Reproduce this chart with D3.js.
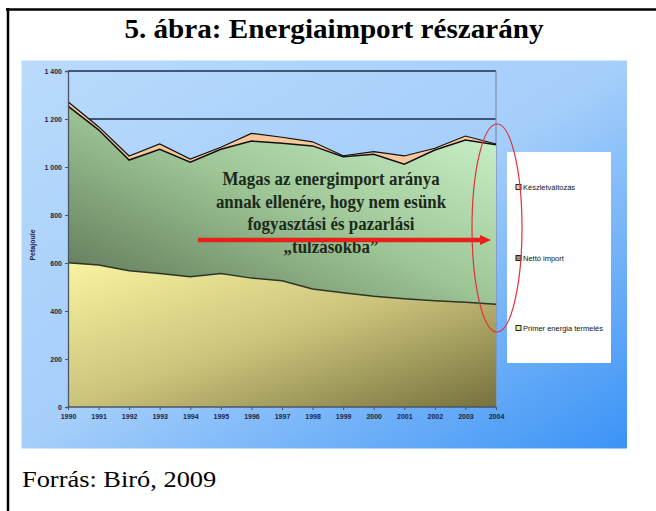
<!DOCTYPE html>
<html>
<head>
<meta charset="UTF-8">
<title>Energiaimport részarány</title>
<script src="https://d3js.org/d3.v7.min.js"></script>
<style>
    body, html { margin: 0; background: #fff; }
    svg { display: block; }
    .tick text { font-family: "Liberation Sans", Arial, sans-serif; font-size: 7px; font-weight: bold; fill: #1b2546; }
</style>
</head>
<body>
<div id="chart"></div>
<script>
// data (petajoule)
const years = [1990, 1991, 1992, 1993, 1994, 1995, 1996, 1997, 1998, 1999, 2000, 2001, 2002, 2003, 2004];
const primer = [601, 592, 568, 556, 543, 556, 537, 526, 492, 476, 461, 451, 443, 436, 428];
const nettoImport = [653, 563, 461, 518, 477, 518, 571, 573, 596, 567, 592, 561, 628, 676, 665];
const keszlet = [18, 13, 17, 22, 13, 8, 32, 25, 17, 4, 11, 34, 7, 17, 3];
const yTicks = [0, 200, 400, 600, 800, 1000, 1200, 1400];
const seriesNames = ["Primer energia termelés", "Nettó import", "Készletváltozás"];
const noteLines = ["Magas az energimport aránya", "annak ellenére, hogy nem esünk", "fogyasztási és pazarlási", "„túlzásokba”"];

const width = 656, height = 511;
const svg = d3.select("#chart").append("svg")
    .attr("width", width)
    .attr("height", height);

const defs = svg.append("defs");
function grad(id, x1, y1, x2, y2, stops, units) {
    const g = defs.append("linearGradient").attr("id", id)
        .attr("x1", x1).attr("y1", y1).attr("x2", x2).attr("y2", y2);
    if (units) g.attr("gradientUnits", units);
    stops.forEach(s => g.append("stop").attr("offset", s[0]).attr("stop-color", s[1]));
}
grad("bg", 0, 0, 1, 1, [[0, "#b9dafc"], [0.5, "#a5cefa"], [1, "#3b93f6"]]);
grad("gPrimer", 0, 0, 1, 1, [[0, "#f8f3a0"], [0.5, "#cbc37b"], [1, "#76713e"]]);
grad("gImport", 0, 1, 1, 0, [[0, "#5a7052"], [0.5, "#9cc494"], [1, "#cff7cf"]]);

// page frame and title
svg.append("line").attr("x1", 6).attr("x2", width).attr("y1", 9.5).attr("y2", 9.5)
    .attr("stroke", "#000").attr("stroke-width", 2.5);
svg.append("line").attr("x1", 8).attr("x2", 8).attr("y1", 8).attr("y2", height)
    .attr("stroke", "#000").attr("stroke-width", 2.5);
svg.append("text").attr("transform", "translate(334,38) scale(1.1,1)")
    .attr("text-anchor", "middle")
    .style("font-family", "'Liberation Serif', 'Times New Roman', serif")
    .style("font-weight", "bold").style("font-size", "26.5px")
    .text("5. ábra: Energiaimport részarány");
svg.append("text").attr("transform", "translate(22,487) scale(1.1,1)")
    .style("font-family", "'Liberation Serif', 'Times New Roman', serif")
    .style("font-size", "24px")
    .text("Forrás: Biró, 2009");

// blue slide background
svg.append("rect").attr("x", 21.5).attr("y", 60.5).attr("width", 605.5).attr("height", 388)
    .attr("fill", "url(#bg)");

const x = d3.scaleLinear().domain([1990, 2004]).range([68, 496]);
const y = d3.scaleLinear().domain([0, 1400]).range([407, 71]);

// gridlines (only the top ones stay visible above the areas)
svg.append("g").selectAll("line").data(yTicks.slice(1)).join("line")
    .attr("x1", x(1990)).attr("x2", x(2004))
    .attr("y1", d => y(d)).attr("y2", d => y(d))
    .attr("stroke", "#1d2b4e").attr("stroke-width", 1.3);
svg.append("line").attr("x1", x(2004)).attr("x2", x(2004)).attr("y1", y(1400)).attr("y2", y(0))
    .attr("stroke", "#7d8ea6").attr("stroke-width", 1.2);

const rows = years.map((yr, i) => ({ year: yr, primer: primer[i], imp: nettoImport[i], keszlet: keszlet[i] }));
const stack = d3.stack().keys(["primer", "imp", "keszlet"]);
const layers = stack(rows);
const fills = ["url(#gPrimer)", "url(#gImport)", "#f8c89c"];

const area = d3.area()
    .x(d => x(d.data.year))
    .y0(d => y(d[0]))
    .y1(d => y(d[1]));
const topLine = d3.line()
    .x(d => x(d.data.year))
    .y(d => y(d[1]));

svg.append("g").selectAll("path").data(layers).join("path")
    .attr("d", area)
    .attr("fill", (d, i) => fills[i]);
svg.append("g").selectAll("path").data(layers).join("path")
    .attr("d", topLine)
    .attr("fill", "none")
    .attr("stroke", (d, i) => i == 0 ? "#2e3526" : "#111")
    .attr("stroke-width", (d, i) => i == 2 ? 1.2 : 1.5);

// axes
const yAxis = svg.append("g").attr("transform", "translate(68,0)")
    .call(d3.axisLeft(y).tickValues(yTicks).tickSize(3).tickPadding(3)
        .tickFormat(d => d >= 1000 ? Math.floor(d / 1000) + " " + String(d % 1000).padStart(3, "0") : d));
const xAxis = svg.append("g").attr("transform", "translate(0,407)")
    .call(d3.axisBottom(x).tickValues(years).tickSize(3).tickPadding(4).tickFormat(d3.format("d")));
[yAxis, xAxis].forEach(a => {
    a.select(".domain").attr("stroke", "#4a5568").attr("stroke-width", 1.3);
    a.selectAll(".tick line").attr("stroke", "#4a5568");
});
xAxis.select(".domain").attr("d", "M68,0H496");

svg.append("text")
    .attr("transform", "translate(35,245) rotate(-90)")
    .attr("text-anchor", "middle")
    .style("font-family", "'Liberation Sans', Arial, sans-serif")
    .style("font-size", "7px").style("font-weight", "bold").style("fill", "#1b2546")
    .text("Petajoule");

// legend
svg.append("rect").attr("x", 507).attr("y", 152).attr("width", 104).attr("height", 211).attr("fill", "#fff");
const legendY = [328, 258, 187];
const legendFill = ["#f2ec98", "#7e9a74", "#f8c89c"];
const leg = svg.append("g").selectAll("g").data(seriesNames).join("g")
    .attr("transform", (d, i) => "translate(516," + legendY[i] + ")");
leg.append("rect").attr("x", 0).attr("y", -2.5).attr("width", 5).attr("height", 5)
    .attr("fill", (d, i) => legendFill[i]).attr("stroke", "#222").attr("stroke-width", 1);
leg.append("text").attr("x", 7).attr("y", 2.5)
    .style("font-family", "'Liberation Sans', Arial, sans-serif")
    .style("font-size", "7.5px").style("fill", "#111")
    .text(d => d);

// annotation
const note = svg.append("text")
    .attr("transform", "translate(331,0) scale(0.89,1)")
    .attr("text-anchor", "middle")
    .style("font-family", "'Liberation Serif', 'Times New Roman', serif")
    .style("font-weight", "bold").style("font-size", "19px").style("fill", "#1c2a1c");
note.selectAll("tspan").data(noteLines).join("tspan")
    .attr("x", 0).attr("y", (d, i) => 185 + i * 22.6)
    .text(d => d);

svg.append("line").attr("x1", 198).attr("x2", 482).attr("y1", 240).attr("y2", 240)
    .attr("stroke", "#e8201a").attr("stroke-width", 4.5);
svg.append("path").attr("d", "M480,235L491,240L480,245Z").attr("fill", "#e8201a");

svg.append("ellipse").attr("cx", 497).attr("cy", 228).attr("rx", 25).attr("ry", 104)
    .attr("fill", "none").attr("stroke", "#e0303a").attr("stroke-width", 1.2);
</script>
</body>
</html>
